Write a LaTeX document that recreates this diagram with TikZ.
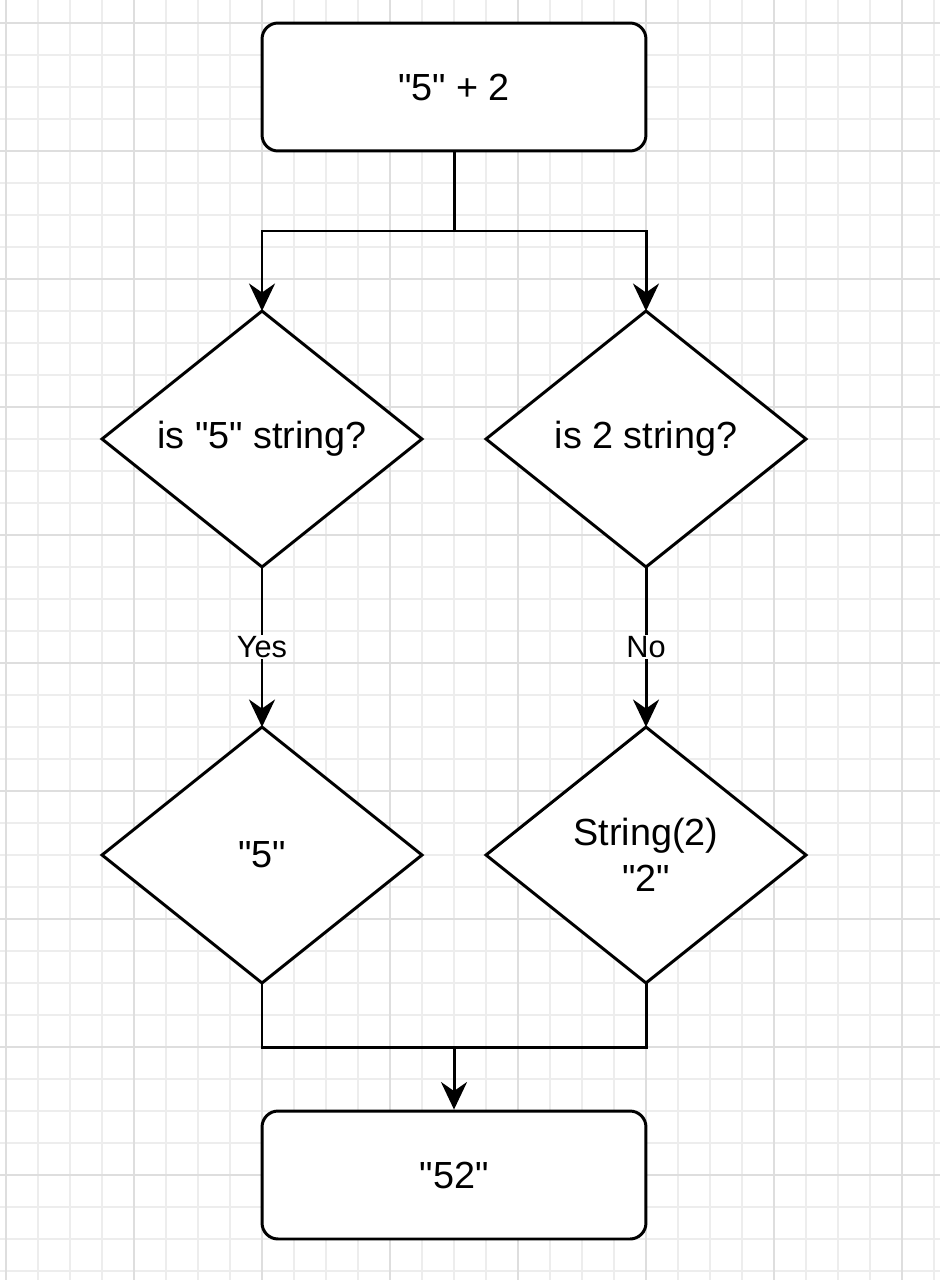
\documentclass[tikz,border=0pt]{standalone}
\usepackage{fontspec}
\setmainfont{Liberation Sans}[Ligatures=TeXOff]
\usetikzlibrary{shapes.geometric,arrows.meta}

\begin{document}
\begin{tikzpicture}[x=0.02cm,y=-0.02cm,
  gridminor/.style={line width=0.6pt,black!7},
  gridmajor/.style={line width=0.6pt,black!13},
  box/.style={draw,line width=1.7pt,rounded corners=0.32cm,minimum width=7.68cm,minimum height=2.56cm,font=\fontsize{21.5}{26}\selectfont},
  decision/.style={draw,diamond,line width=1.7pt,minimum width=6.4cm,minimum height=5.12cm,inner sep=0pt,outer sep=0pt,align=center,font=\fontsize{21.5}{26}\selectfont},
  wire/.style={line width=1.7pt},
  flow/.style={line width=1.7pt,-{Stealth[length=0.55cm,width=0.52cm,inset=0.18cm]}},
  lbl/.style={fill=white,inner sep=1pt,font=\fontsize{17.5}{21}\selectfont}]
\useasboundingbox (0,0) rectangle (940,1280);
\fill[white] (0,0) rectangle (940,1280);

% Grid
\foreach \gx in {6,38,...,934} \draw[gridminor] (\gx,0) -- (\gx,1280);
\foreach \gy in {23,55,...,1271} \draw[gridminor] (0,\gy) -- (940,\gy);
\foreach \gx in {6,134,...,902} \draw[gridmajor] (\gx,0) -- (\gx,1280);
\foreach \gy in {23,151,...,1175} \draw[gridmajor] (0,\gy) -- (940,\gy);

% Expression
\node[box,fill=white] (start) at (454,87) {"5" + 2};

% Type checks
\node[decision,fill=white] (chkl) at (262,439) {is "5" string?};
\node[decision,fill=white] (chkr) at (646,439) {is 2 string?};

% Values
\node[decision,fill=white] (vall) at (262,855) {"5"};
\node[decision,fill=white] (valr) at (646,855) {String(2)\\"2"};

% Result
\node[box,fill=white] (result) at (454,1175) {"52"};

% Split
\coordinate (split) at (454,231);
\draw[flow] (start.south) -- (split) -| (chkl.north);
\draw[flow] (split) -| (chkr.north);

% Branches
\draw[flow] (chkl.south) -- node[lbl]{Yes} (vall.north);
\draw[flow] (chkr.south) -- node[lbl]{No} (valr.north);

% Merge
\coordinate (merge) at (454,1047);
\draw[flow] (vall.south) |- (merge) -- (result.north);
\draw[wire] (valr.south) |- (merge);
\end{tikzpicture}
\end{document}
